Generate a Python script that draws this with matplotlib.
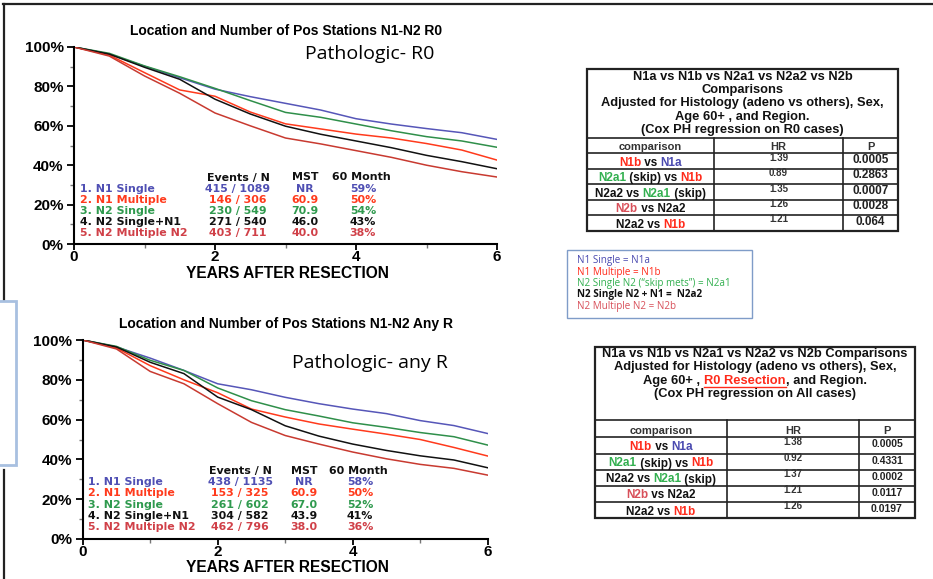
import matplotlib
matplotlib.use("Agg")
import matplotlib.pyplot as plt
from matplotlib.patches import Rectangle
import numpy as np

plt.rcParams['font.family'] = ['Liberation Sans', 'DejaVu Sans']

# ---------------- data ----------------
years = [0, 0.5, 1, 1.5, 2, 2.5, 3, 3.5, 4, 4.5, 5, 5.5, 6]
groups = ["1. N1 Single", "2. N1 Multiple", "3. N2 Single", "4. N2 Single+N1", "5. N2 Multiple N2"]

r0_surv = {
    "1. N1 Single":      [100, 96.4, 90.2, 84.4, 78.6, 74.8, 71.4, 68.0, 63.6, 60.9, 58.6, 56.5, 53.1],
    "2. N1 Multiple":    [100, 95.9, 87.0, 78.2, 75.0, 67.0, 61.0, 58.4, 55.8, 53.8, 51.0, 47.7, 42.6],
    "3. N2 Single":      [100, 96.8, 90.4, 84.9, 79.0, 72.8, 66.8, 64.3, 60.9, 57.5, 54.5, 52.3, 49.1],
    "4. N2 Single+N1":   [100, 96.4, 89.7, 83.6, 73.5, 66.0, 59.8, 55.7, 52.3, 48.9, 45.0, 41.8, 38.2],
    "5. N2 Multiple N2": [100, 95.4, 85.3, 76.5, 66.5, 60.0, 53.8, 50.8, 47.4, 44.0, 40.0, 36.7, 34.0],
}
anyr_surv = {
    "1. N1 Single":      [100, 96.5, 90.9, 84.7, 78.0, 75.0, 71.2, 68.0, 65.3, 63.0, 59.5, 57.0, 53.0],
    "2. N1 Multiple":    [100, 96.0, 87.1, 80.0, 73.5, 65.3, 61.3, 57.8, 55.2, 52.7, 50.0, 46.0, 41.7],
    "3. N2 Single":      [100, 96.8, 89.8, 84.7, 75.9, 69.5, 65.0, 61.8, 58.4, 56.1, 53.5, 51.4, 47.2],
    "4. N2 Single+N1":   [100, 96.5, 88.8, 83.1, 71.3, 65.0, 56.9, 51.7, 47.7, 44.5, 41.8, 39.7, 35.8],
    "5. N2 Multiple N2": [100, 95.5, 84.2, 78.0, 68.0, 58.6, 52.0, 47.7, 43.7, 40.3, 37.5, 35.5, 32.1],
}
r0_events = ["415 / 1089", "146 / 306", "230 / 549", "271 / 540", "403 / 711"]
r0_mst = ["NR", "60.9", "70.9", "46.0", "40.0"]
r0_m60 = ["59%", "50%", "54%", "43%", "38%"]
anyr_events = ["438 / 1135", "153 / 325", "261 / 602", "304 / 582", "462 / 796"]
anyr_mst = ["NR", "60.9", "67.0", "43.9", "38.0"]
anyr_m60 = ["58%", "50%", "52%", "41%", "36%"]

t1_hr = ["1.39", "0.89", "1.35", "1.26", "1.21"]
t1_p = ["0.0005", "0.2863", "0.0007", "0.0028", "0.064"]
t2_hr = ["1.38", "0.92", "1.37", "1.21", "1.26"]
t2_p = ["0.0005", "0.4331", "0.0002", "0.0117", "0.0197"]

# ---------------- styles ----------------
line_cols = ["#5656b8", "#ff3a1c", "#2f8f4a", "#111111", "#c83a30"]
text_cols = ["#5050b4", "#ff3a1c", "#2f9a4e", "#111111", "#d04048"]
BLUE, RED, GREEN, BLACK, DRED = "#4a4ab0", "#ff2a1a", "#33b050", "#111111", "#d8505a"

fig = plt.figure(figsize=(9.33, 5.79), dpi=100)
ax0 = fig.add_axes([0, 0, 1, 1], zorder=0)
ax0.set_xlim(0, 933)
ax0.set_ylim(579, 0)
ax0.axis('off')
renderer = fig.canvas.get_renderer()


def measure(s, **kw):
    t = ax0.text(0, 0, s, **kw)
    w = t.get_window_extent(renderer).width
    t.remove()
    return w


def mtext(x, y, parts, ha='center', **kw):
    base = measure('||', **kw)
    widths = [measure('|' + s + '|', **kw) - base for s, c in parts]
    total = sum(widths)
    xx = x - total / 2 if ha == 'center' else x
    spans = []
    for (s, c), w in zip(parts, widths):
        ax0.text(xx, y, s, color=c, ha='left', va='center', **kw)
        spans.append((xx, xx + w))
        xx += w
    return spans


# ---------------- frame lines ----------------
ax0.plot([3, 933], [4, 4], color='#222222', lw=1.6)
ax0.plot([4, 4], [4, 299], color='#222222', lw=1.6)
ax0.plot([4, 4], [470, 579], color='#222222', lw=1.6)
ax0.add_patch(Rectangle((-5, 301), 21, 164, fill=False, edgecolor='#a8c0e0', lw=2))


# ---------------- KM charts ----------------
def km_axes(rect, surv):
    ax = fig.add_axes(rect, zorder=2)
    ax.set_facecolor('none')
    for g, c in zip(groups, line_cols):
        ax.plot(years, surv[g], color=c, lw=1.1)
    ax.set_xlim(0, 6)
    ax.set_ylim(0, 100)
    ax.set_xticks([0, 2, 4, 6])
    ax.set_xticks([1, 3, 5], minor=True)
    ax.set_yticks([0, 20, 40, 60, 80, 100])
    ax.set_yticklabels(["0%", "20%", "40%", "60%", "80%", "100%"])
    ax.set_yticks([10, 30, 50, 70, 90], minor=True)
    for s in ['top', 'right']:
        ax.spines[s].set_visible(False)
    for s in ['left', 'bottom']:
        ax.spines[s].set_linewidth(1.5)
    ax.tick_params(axis='y', which='major', length=5, width=1.3, direction='out', pad=2.5, labelsize=11)
    ax.tick_params(axis='x', which='major', length=4, width=1.3, direction='out', pad=0, labelsize=11)
    ax.tick_params(which='minor', length=3, width=1, color='#777777', direction='out')
    for lab in ax.get_xticklabels() + ax.get_yticklabels():
        lab.set_fontweight('bold')
    return ax


km_axes([74 / 933, 1 - 244 / 579, 423 / 933, 197 / 579], r0_surv)
km_axes([82.7 / 933, 1 - 539 / 579, 405 / 933, 199 / 579], anyr_surv)

# titles & labels
ax0.text(286, 31, "Location and Number of Pos Stations N1-N2 R0", ha='center', va='center',
         fontsize=10, fontweight='bold')
ax0.text(286, 324, "Location and Number of Pos Stations N1-N2 Any R", ha='center', va='center',
         fontsize=10, fontweight='bold')
ax0.text(287, 278.5, "YEARS AFTER RESECTION", ha='center', va='baseline', fontsize=11.2, fontweight='bold')
ax0.text(287, 572.5, "YEARS AFTER RESECTION", ha='center', va='baseline', fontsize=11.2, fontweight='bold')
ax0.text(370, 54, "Pathologic- R0", ha='center', va='center', fontsize=14, family='Open Sans')
ax0.text(370, 363, "Pathologic- any R", ha='center', va='center', fontsize=14, family='Open Sans')


def km_legend(xl, xe, xm, x6, yh, rows, events, mst, m60):
    kw = dict(fontsize=7.9, fontweight='bold', va='center', family='DejaVu Sans')
    ax0.text(xe, yh, "Events / N", ha='center', color=BLACK, **kw)
    ax0.text(xm, yh, "MST", ha='center', color=BLACK, **kw)
    ax0.text(x6, yh, "60 Month", ha='center', color=BLACK, **kw)
    for i, g in enumerate(groups):
        y = rows[i]
        c = text_cols[i]
        ax0.text(xl, y, g, ha='left', color=c, **kw)
        ax0.text(xe, y, events[i], ha='center', color=c, **kw)
        ax0.text(xm, y, mst[i], ha='center', color=c, **kw)
        ax0.text(x6 + 2, y, m60[i], ha='center', color=c, **kw)


km_legend(80, 238, 305, 361, 177.5, [188.6, 199.8, 211, 222.2, 233.4], r0_events, r0_mst, r0_m60)
km_legend(88, 240, 304, 358, 471, [482.2, 493.4, 504.6, 515.8, 527], anyr_events, anyr_mst, anyr_m60)

# ---------------- legend box ----------------
ax0.add_patch(Rectangle((567, 250), 185, 68, fill=False, edgecolor='#7f9cc8', lw=1))
lb_kw = dict(fontsize=7.1, family='Open Sans', va='center', ha='left')
ax0.text(577, 260.5, "N1 Single = N1a", color=BLUE, **lb_kw)
ax0.text(577, 272, "N1 Multiple = N1b", color=RED, **lb_kw)
ax0.text(577, 283.5, "N2 Single N2 (\u201cskip mets\u201d) = N2a1", color=GREEN, **lb_kw)
ax0.text(577, 295, "N2 Single N2 + N1 =  N2a2", color=BLACK, fontweight='bold', **lb_kw)
ax0.text(577, 306.5, "N2 Multiple N2 = N2b", color=DRED, **lb_kw)

# ---------------- tables ----------------
comparisons = [
    [("N1b", RED), (" vs ", BLACK), ("N1a", BLUE)],
    [("N2a1", GREEN), (" (skip) vs ", BLACK), ("N1b", RED)],
    [("N2a2 vs ", BLACK), ("N2a1", GREEN), (" (skip)", BLACK)],
    [("N2b", DRED), (" vs N2a2", BLACK)],
    [("N2a2 vs ", BLACK), ("N1b", RED)],
]


def table(x0, x1, x2, x3, ytop, yhead, ycol, rowlines, header_lines, hr, p, hdr_size, p_size):
    lw = 1.2
    ax0.add_patch(Rectangle((x0, ytop), x3 - x0, rowlines[-1] - ytop, fill=False, edgecolor='#222222', lw=1.6))
    ax0.plot([x0, x3], [yhead, yhead], color='#222222', lw=lw)
    for yl in rowlines[:-1]:
        ax0.plot([x0, x3], [yl, yl], color='#222222', lw=lw)
    for xv in (x1, x2):
        ax0.plot([xv, xv], [yhead, rowlines[-1]], color='#222222', lw=lw)
    xc = (x0 + x3) / 2
    for y, parts in header_lines:
        spans = mtext(xc, y, parts, fontsize=hdr_size, fontweight='bold')
        for (s, c), (a, b) in zip(parts, spans):
            if c == RED:
                ax0.plot([a, b], [y + 6.5, y + 6.5], color=RED, lw=1)
    ck = dict(fontsize=8, fontweight='bold', ha='center', va='center', color='#333333')
    ax0.text((x0 + x1) / 2, ycol, "comparison", **ck)
    ax0.text((x1 + x2) / 2, ycol, "HR", **ck)
    ax0.text((x2 + x3) / 2, ycol, "P", **ck)
    for i in range(5):
        a, b = rowlines[i], rowlines[i + 1]
        mtext((x0 + x1) / 2, (a + b) / 2 + 2, comparisons[i], fontsize=8.5, fontweight='bold')
        ax0.text((x1 + x2) / 2, a + 4.5, hr[i], fontsize=7, fontweight='bold', ha='center', va='center',
                 color='#333333')
        ax0.text((x2 + x3) / 2, (a + b) / 2 - 1, p[i], fontsize=p_size, fontweight='bold', ha='center',
                 va='center', color='#222222')


table(587, 714, 843, 898, 69, 137.5, 147, [153.3, 168.7, 184, 199.5, 215, 230.7],
      [(76.5, [("N1a vs N1b vs N2a1 vs N2a2 vs N2b", BLACK)]),
       (90, [("Comparisons", BLACK)]),
       (103.3, [("Adjusted for Histology (adeno vs others), Sex,", BLACK)]),
       (116.7, [("Age 60+ , and Region.", BLACK)]),
       (130, [("(Cox PH regression on R0 cases)", BLACK)])],
      t1_hr, t1_p, 9.3, 8.5)

table(595, 727, 859, 915, 347, 419.5, 430.5, [437.3, 453.5, 469.5, 485.5, 501.5, 518],
      [(354, [("N1a vs N1b vs N2a1 vs N2a2 vs N2b Comparisons", BLACK)]),
       (367.3, [("Adjusted for Histology (adeno vs others), Sex,", BLACK)]),
       (380.7, [("Age 60+ , ", BLACK), ("R0 Resection", RED), (", and Region.", BLACK)]),
       (393.5, [("(Cox PH regression on All cases)", BLACK)])],
      t2_hr, t2_p, 9.3, 7.5)

fig.savefig("out.png", dpi=100)
